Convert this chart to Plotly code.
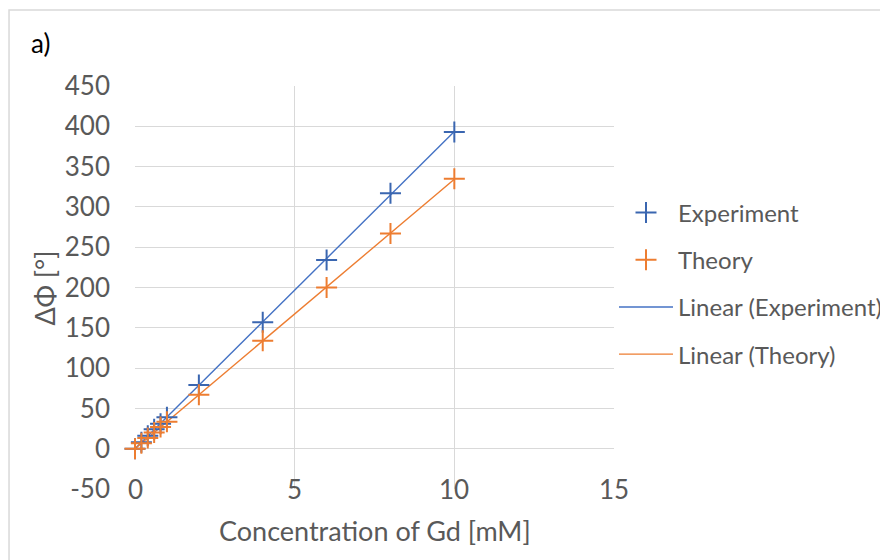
import numpy as np
import plotly.graph_objects as go

# ---- data ----
conc = [0, 0.2, 0.4, 0.6, 0.8, 1.0, 2, 4, 6, 8, 10]
experiment = [0, 8, 16, 24, 31, 39, 79, 157, 234, 317, 393]
theory = [0, 6.7, 13.4, 20, 27, 33.5, 67, 134, 200, 267, 335]

x_ticks = [0, 5, 10, 15]
y_ticks = [-50, 0, 50, 100, 150, 200, 250, 300, 350, 400, 450]

BLUE = "#4472C4"
BLUE_MK = "#3A66B0"
ORANGE = "#ED7D31"
GRID = "#D9D9D9"
TXT = "#595959"
FONT = "Lato"

# linear trendlines (least-squares fit of each series)
x_fit = [min(conc), max(conc)]
pe = np.polyfit(conc, experiment, 1)
pt = np.polyfit(conc, theory, 1)
y_fit_e = list(np.polyval(pe, x_fit))
y_fit_t = list(np.polyval(pt, x_fit))

fig = go.Figure()
fig.add_trace(go.Scatter(
    x=x_fit, y=y_fit_e, mode="lines", name="Linear (Experiment)",
    line=dict(color=BLUE, width=1.4), legendrank=3, legendgroup="c"))
fig.add_trace(go.Scatter(
    x=x_fit, y=y_fit_t, mode="lines", name="Linear (Theory)",
    line=dict(color=ORANGE, width=1.4), legendrank=4, legendgroup="d"))
fig.add_trace(go.Scatter(
    x=conc, y=experiment, mode="markers", name="Experiment", cliponaxis=False,
    marker=dict(symbol="cross-thin", size=15, line=dict(color=BLUE_MK, width=2)),
    legendrank=1, legendgroup="a"))
fig.add_trace(go.Scatter(
    x=conc, y=theory, mode="markers", name="Theory", cliponaxis=False,
    marker=dict(symbol="cross-thin", size=15, line=dict(color=ORANGE, width=2)),
    legendrank=2, legendgroup="b"))

annotations = []
for t in x_ticks:
    annotations.append(dict(
        x=t, y=-50, xref="x", yref="y", text=str(t), showarrow=False,
        xanchor="center", yanchor="middle",
        font=dict(family=FONT, size=26, color=TXT)))
annotations.append(dict(
    x=0.5, y=-0.104, xref="paper", yref="paper",
    text="Concentration of Gd [mM]", showarrow=False,
    xanchor="center", yanchor="middle",
    font=dict(family=FONT, size=27, color=TXT)))
annotations.append(dict(
    x=-0.188, y=0.5, xref="paper", yref="paper", text="ΔΦ [°]",
    textangle=-90, showarrow=False, xanchor="center", yanchor="middle",
    font=dict(family=FONT, size=27, color=TXT)))
annotations.append(dict(
    x=-0.221, y=1.107, xref="paper", yref="paper", text="a)",
    showarrow=False, xanchor="left", yanchor="middle",
    font=dict(family=FONT, size=26, color="#000000")))

# page body has an 8px margin, so the figure is drawn from (8, 8)
fig.update_layout(
    width=880, height=552,
    margin=dict(l=127, r=274, t=78, b=71, autoexpand=False),
    paper_bgcolor="white", plot_bgcolor="white",
    xaxis=dict(range=[0, 15], tickvals=x_ticks, showticklabels=False,
               showgrid=True, gridcolor=GRID, gridwidth=1,
               zeroline=False, showline=False, fixedrange=True),
    yaxis=dict(range=[-50, 450], tickvals=y_ticks,
               ticktext=[str(v) for v in y_ticks],
               showgrid=True, gridcolor=GRID, gridwidth=1,
               zeroline=True, zerolinecolor=GRID, zerolinewidth=1,
               showline=False, ticks="", ticklabelstandoff=24,
               tickfont=dict(family=FONT, size=26, color=TXT)),
    legend=dict(x=1.0, y=0.51, xanchor="left", yanchor="middle",
                traceorder="grouped", tracegroupgap=13, itemwidth=54,
                font=dict(family=FONT, size=24, color=TXT),
                bgcolor="rgba(0,0,0,0)"),
    annotations=annotations,
    shapes=[dict(type="rect", xref="paper", yref="paper",
                 x0=-0.263, x1=1.6, y0=-0.2, y1=1.1886,
                 line=dict(color=GRID, width=1.5), layer="below")],
)

fig.write_html("out.html")
